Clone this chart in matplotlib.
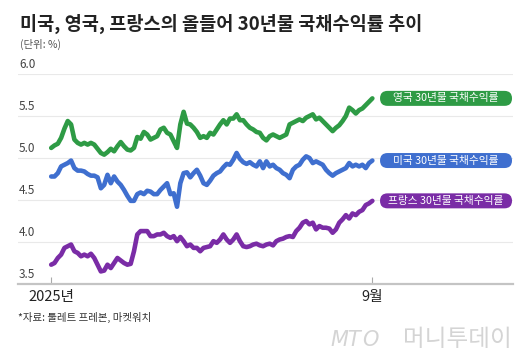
import matplotlib
matplotlib.use("Agg")
import matplotlib.pyplot as plt
import matplotlib.transforms as mtransforms
from matplotlib.patches import FancyBboxPatch
import pandas as pd

plt.rcParams['font.family'] = ['Noto Sans CJK KR', 'DejaVu Sans']

title = "미국, 영국, 프랑스의 올들어 30년물 국채수익률 추이"
unit = "(단위: %)"
source = "*자료: 툴레트 프레본, 마켓워치"
tick_labels = ["2025년", "9월"]
yticks = [3.5, 4.0, 4.5, 5.0, 5.5, 6.0]

# 30-year yields, Jan 2 -> Sep 1 2025
uk = [5.12, 5.15, 5.17, 5.24, 5.35, 5.44, 5.40, 5.22, 5.18, 5.16, 5.18, 5.16, 5.18,
      5.16, 5.11, 5.06, 5.04, 5.07, 5.11, 5.08, 5.14, 5.19, 5.14, 5.10, 5.09, 5.12,
      5.25, 5.23, 5.31, 5.28, 5.22, 5.24, 5.26, 5.34, 5.36, 5.30, 5.28, 5.20, 5.12,
      5.40, 5.55, 5.41, 5.40, 5.36, 5.31, 5.24, 5.26, 5.24, 5.30, 5.28, 5.34, 5.40,
      5.45, 5.40, 5.47, 5.47, 5.52, 5.45, 5.45, 5.40, 5.36, 5.34, 5.31,
      5.30, 5.24, 5.21, 5.26, 5.28, 5.26, 5.24, 5.26, 5.28, 5.40, 5.42, 5.44, 5.46,
      5.44, 5.48, 5.50, 5.52, 5.46, 5.48, 5.44, 5.40, 5.36, 5.32, 5.36, 5.39, 5.44,
      5.50, 5.60, 5.57, 5.53, 5.57, 5.59, 5.63, 5.67, 5.71]
us = [4.78, 4.78, 4.82, 4.90, 4.92, 4.94, 4.97, 4.88, 4.85, 4.85, 4.84, 4.81, 4.79,
      4.79, 4.77, 4.64, 4.68, 4.80, 4.70, 4.78, 4.72, 4.68, 4.62, 4.55, 4.49, 4.49,
      4.57, 4.59, 4.57, 4.61, 4.60, 4.57, 4.57, 4.62, 4.66, 4.70, 4.57, 4.58, 4.42,
      4.70, 4.82, 4.83, 4.77, 4.82, 4.86, 4.79, 4.70, 4.68, 4.73, 4.79, 4.82, 4.84,
      4.89, 4.93, 4.92, 4.98, 5.06, 4.99, 4.95, 4.93, 4.95, 4.92, 4.90,
      4.96, 4.88, 4.96, 4.90, 4.92, 4.88, 4.86, 4.82, 4.80, 4.76, 4.86, 4.90, 4.92,
      4.98, 5.02, 5.00, 4.94, 4.96, 4.94, 4.92, 4.86, 4.82, 4.79, 4.82, 4.84, 4.86,
      4.88, 4.94, 4.90, 4.92, 4.90, 4.92, 4.88, 4.94, 4.97]
fr = [3.73, 3.75, 3.81, 3.85, 3.93, 3.95, 3.97, 3.89, 3.87, 3.83, 3.85, 3.83, 3.86,
      3.81, 3.73, 3.65, 3.66, 3.73, 3.69, 3.75, 3.81, 3.78, 3.75, 3.73, 3.74, 3.89,
      4.09, 4.13, 4.13, 4.13, 4.07, 4.07, 4.09, 4.09, 4.11, 4.07, 4.05, 4.07, 4.01,
      4.06, 4.01, 3.95, 3.97, 3.93, 3.93, 3.89, 3.93, 3.94, 3.95, 4.01, 3.99, 4.03,
      4.09, 4.03, 3.99, 4.03, 4.09, 4.01, 3.95, 3.94, 3.95, 3.97, 3.98,
      3.96, 3.95, 3.97, 3.98, 3.96, 4.01, 4.03, 4.04, 4.06, 4.07, 4.06, 4.13, 4.17,
      4.23, 4.25, 4.21, 4.23, 4.15, 4.19, 4.17, 4.17, 4.16, 4.11, 4.15, 4.23, 4.27,
      4.32, 4.28, 4.34, 4.32, 4.36, 4.38, 4.44, 4.46, 4.49]

series = [
    (uk, "영국 30년물 국채수익률", "#2e9b45"),
    (us, "미국 30년물 국채수익률", "#3f6fcf"),
    (fr, "프랑스 30년물 국채수익률", "#7a2ca6"),
]

dates = pd.date_range("2025-01-02", "2025-09-01", periods=len(uk))

fig = plt.figure(figsize=(5.3, 3.63), dpi=100)
ax = fig.add_axes([0.034, 0.2176, 0.934, 0.5785])

for vals, name, col in series:
    ax.plot(dates, vals, color=col, lw=3.3, solid_capstyle="round",
            solid_joinstyle="round", zorder=3)

ax.set_ylim(3.5, 6.0)
ax.set_xlim(dates[0] - pd.Timedelta(days=25), dates[-1] + pd.Timedelta(days=106))

for s in ["top", "right", "left"]:
    ax.spines[s].set_visible(False)
ax.spines["bottom"].set_color("#c4c4c4")
ax.spines["bottom"].set_linewidth(1.6)

ax.set_yticks(yticks)
ax.set_yticklabels([])
ax.tick_params(axis="y", length=0)
ax.grid(axis="y", color="#e9e9e9", lw=0.8, zorder=0)

blend = mtransforms.blended_transform_factory(ax.transAxes, ax.transData)
for v in yticks:
    ax.annotate(f"{v:.1f}", xy=(0, v), xycoords=blend, xytext=(1, 3),
                textcoords="offset pixels", ha="left", va="bottom",
                fontsize=8.5, color="#444444")

ax.set_xticks([dates[0], dates[-1]])
ax.set_xticklabels(tick_labels, fontsize=10.5, color="#222222")
ax.tick_params(axis="x", direction="in", length=5, width=0.8, color="#aaaaaa", pad=4)

# end-of-line label pills
ax_w = 0.934 * 530
ax_h = 0.5785 * 363
box_w = 132 / ax_w
box_h = 15 / ax_h
r = 7.5 / ax_w
y0, y1 = ax.get_ylim()
for vals, name, col in series:
    ya = (vals[-1] - y0) / (y1 - y0)
    x0 = (380 - 18) / ax_w
    box = FancyBboxPatch((x0, ya - box_h / 2), box_w, box_h,
                         boxstyle=f"round,pad=0,rounding_size={r}",
                         mutation_aspect=(box_h / 2) / r,
                         transform=ax.transAxes, facecolor=col, edgecolor="none",
                         clip_on=False, zorder=4)
    ax.add_patch(box)
    ax.text(x0 + box_w / 2, ya, name, transform=ax.transAxes, ha="center",
            va="center", fontsize=7.7, color="white", zorder=5)

fig.text(20 / 530, 1 - 24 / 363, title, fontsize=13.4, fontweight="bold",
         color="#222222", va="center", ha="left")
fig.text(20 / 530, 1 - 44 / 363, unit, fontsize=7.5, color="#555555",
         va="center", ha="left")
fig.text(18 / 530, 1 - 317 / 363, source, fontsize=7.5, color="#333333",
         va="center", ha="left")

# watermark
fig.text(330 / 530, 1 - 340 / 363, "MT", fontsize=15, style="italic",
         color="#d4d4d4", va="center", ha="left", family="DejaVu Sans")
fig.text(362 / 530, 1 - 340 / 363, "O", fontsize=15, style="italic",
         color="#d4d4d4", va="center", ha="left", family="DejaVu Sans")
fig.text(512 / 530, 1 - 340 / 363, "머니투데이", fontsize=17, color="#d4d4d4",
         va="center", ha="right")

fig.savefig("out.png", dpi=100)
